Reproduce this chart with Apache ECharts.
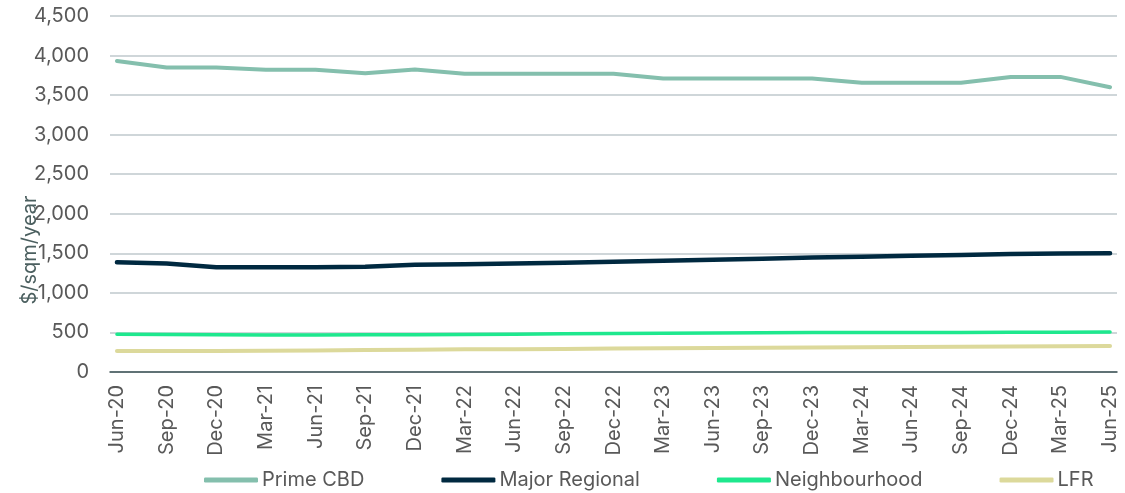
<!DOCTYPE html>
<html>
<head>
<meta charset="utf-8">
<script src="https://cdn.jsdelivr.net/npm/echarts@6/dist/echarts.min.js"></script>
<style>
  html, body { margin: 0; padding: 0; background: #fff; }
  #chart { width: 1125px; height: 493px; }
</style>
</head>
<body>
<div id="chart"></div>
<script>
const categories = ['Jun-20', 'Sep-20', 'Dec-20', 'Mar-21', 'Jun-21', 'Sep-21', 'Dec-21', 'Mar-22', 'Jun-22', 'Sep-22', 'Dec-22',
  'Mar-23', 'Jun-23', 'Sep-23', 'Dec-23', 'Mar-24', 'Jun-24', 'Sep-24', 'Dec-24', 'Mar-25', 'Jun-25']
const primeCBD = [3930, 3850, 3850, 3820, 3820, 3775, 3825, 3770, 3770, 3770, 3770, 3710, 3710, 3710, 3710, 3655, 3655, 3655, 3730, 3730, 3600]
const majorRegional = [1387, 1370, 1325, 1325, 1325, 1330, 1355, 1362, 1372, 1382, 1395, 1405, 1418, 1432, 1448, 1458, 1468, 1480, 1490, 1498, 1500]
const neighbourhood = [478, 475, 471, 469, 469, 470, 472, 475, 478, 482, 488, 490, 493, 496, 500, 500, 500, 500, 501, 503, 505]
const lfr = [265, 265, 267, 270, 272, 277, 282, 286, 289, 292, 296, 300, 303, 306, 309, 312, 315, 318, 322, 326, 329]
const yTicks = [0, 500, 1000, 1500, 2000, 2500, 3000, 3500, 4000, 4500]

const font = 'Inter, Roboto, sans-serif'
const labelColor = '#595959'

const chart = echarts.init(document.getElementById('chart'))

const toPairs = arr => arr.map((v, i) => [i, v])

const makeSeries = (name, data, color, width) => ({
  name,
  type: 'line',
  data: toPairs(data),
  showSymbol: false,
  symbol: 'none',
  lineStyle: { color, width, cap: 'round', join: 'round' },
  itemStyle: { color },
  emphasis: { disabled: true }
})

const option = {
  animation: false,
  textStyle: { fontFamily: font },
  grid: { left: 110, right: 8, top: 16, bottom: 121 },
  xAxis: {
    type: 'value',
    min: -0.14,
    max: categories.length - 1 + 0.14,
    axisLine: { show: true, lineStyle: { color: '#3d5254', width: 1.5 } },
    axisTick: { show: false },
    splitLine: { show: false },
    axisLabel: {
      customValues: categories.map((c, i) => i),
      formatter: v => categories[Math.round(v)],
      rotate: 90,
      margin: 13,
      color: labelColor,
      fontSize: 20,
      fontFamily: font
    }
  },
  yAxis: {
    type: 'value',
    min: yTicks[0],
    max: yTicks[yTicks.length - 1],
    interval: 500,
    axisLine: { show: false },
    axisTick: { show: false },
    splitLine: { lineStyle: { color: '#cfd6d9', width: 2 } },
    axisLabel: {
      margin: 21,
      color: labelColor,
      fontSize: 20,
      fontFamily: font,
      formatter: v => v.toLocaleString('en-US')
    }
  },
  legend: {
    left: 204,
    top: 470,
    padding: 0,
    icon: 'roundRect',
    itemWidth: 54,
    itemHeight: 5,
    itemGap: 77,
    textStyle: { color: labelColor, fontSize: 20, fontFamily: font, padding: [0, 0, 0, -1] },
    data: ['Prime CBD', 'Major Regional', 'Neighbourhood', 'LFR']
  },
  graphic: [{
    type: 'text',
    x: 30,
    y: 250,
    rotation: Math.PI / 2,
    style: {
      text: '$/sqm/year',
      fill: '#4b5f5f',
      font: '20px ' + font,
      align: 'center',
      verticalAlign: 'middle'
    }
  }],
  series: [
    makeSeries('Prime CBD', primeCBD, '#84bfad', 4),
    makeSeries('Major Regional', majorRegional, '#002940', 4.5),
    makeSeries('Neighbourhood', neighbourhood, '#1ee88e', 3.5),
    makeSeries('LFR', lfr, '#dcd99b', 4)
  ]
}

chart.setOption(option)
</script>
</body>
</html>
